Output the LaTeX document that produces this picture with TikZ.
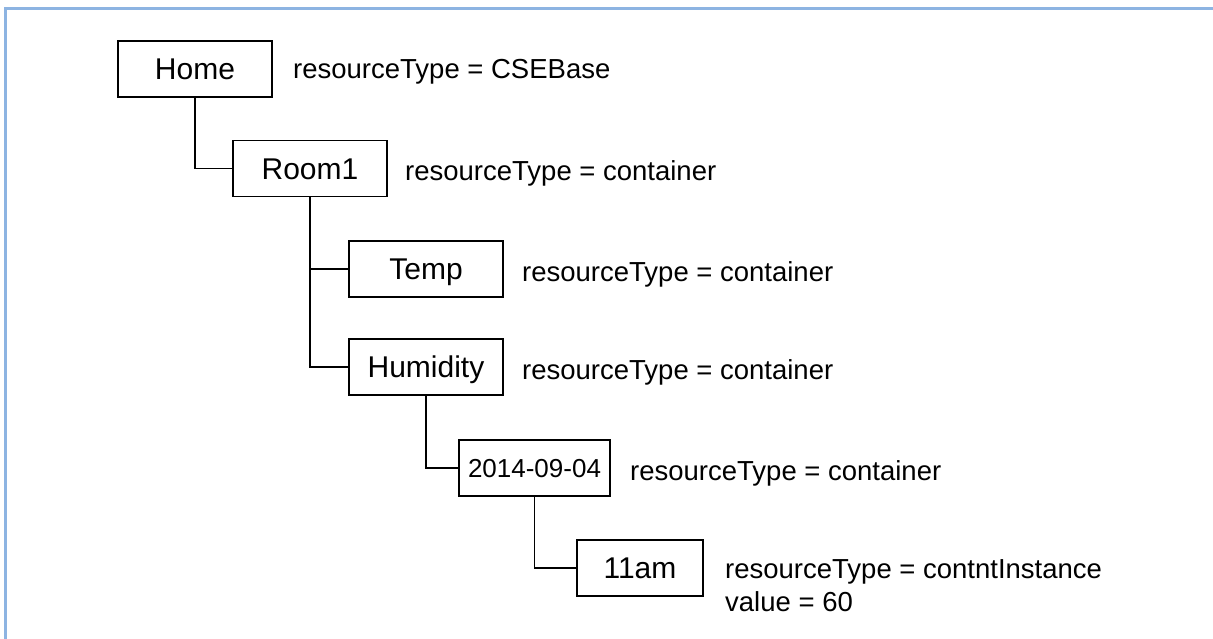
\documentclass[tikz,border=0pt]{standalone}
\usepackage{fontspec}
\setmainfont{Liberation Sans}
\definecolor{framecol}{RGB}{141,180,226}
\tikzset{
  box/.style={draw, line width=1.8pt, minimum width=154pt, minimum height=56pt, inner sep=0pt,
    font=\fontsize{30}{36}\selectfont, text height=21.5pt, text depth=0pt},
  lbl/.style={anchor=base west, inner sep=0pt, font=\fontsize{27.5}{33}\selectfont, align=left},
  link/.style={line width=1.8pt},
}
\begin{document}
\begin{tikzpicture}[x=1pt,y=-1pt]
\useasboundingbox (0,0) rectangle (1213,639);
\draw[framecol, line width=3pt] (5.5,639) -- (5.5,8.5) -- (1213,8.5);

\node[box] (home) at (195,69) {Home};
\node[box] (room) at (310,168.5) {Room1};
\node[box] (temp) at (426,269) {Temp};
\node[box] (hum) at (426,367) {Humidity};
\node[box, minimum width=151pt, font=\fontsize{26}{31}\selectfont, text height=18.6pt] (date) at (534.5,468) {2014-09-04};
\node[box, minimum width=126pt] (inst) at (640,568) {11am};

\draw[link] (home.south) |- (room.west);
\draw[link] (room.south) |- (temp.west);
\draw[link] (room.south) |- (hum.west);
\draw[link] (hum.south) |- (date.west);
\draw[link] (date.south) |- (inst.west);

\node[lbl] (lhome) at (293,79) {resourceType = CSEBase};
\node[lbl] (lroom) at (405,181) {resourceType = container};
\node[lbl] (ltemp) at (522,281) {resourceType = container};
\node[lbl] (lhum) at (522,379) {resourceType = container};
\node[lbl] (ldate) at (630,480) {resourceType = container};
\node[lbl] (linst) at (725,611) {resourceType = contntInstance\\value = 60};
\end{tikzpicture}
\end{document}
